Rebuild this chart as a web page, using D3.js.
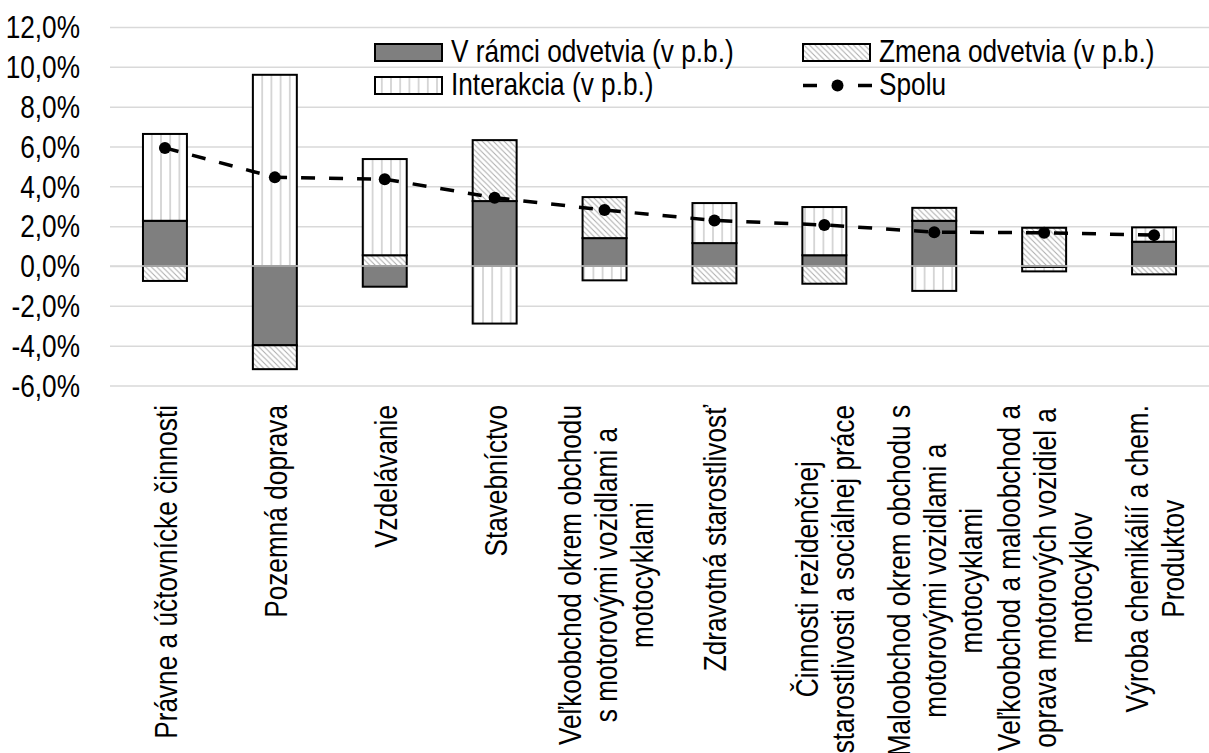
<!DOCTYPE html>
<html>
<head>
<meta charset="utf-8">
<script src="https://cdn.jsdelivr.net/npm/d3@7"></script>
<style>
  body { margin: 0; background: #fff; }
  svg { display: block; font-family: "Liberation Sans", Arial, sans-serif; }
</style>
</head>
<body>
<svg width="1209" height="753"></svg>
<script>
// categories (lines of the wrapped axis labels)
const categories = [
  ["Právne a účtovnícke činnosti"],
  ["Pozemná doprava"],
  ["Vzdelávanie"],
  ["Stavebníctvo"],
  ["Veľkoobchod okrem obchodu", "s motorovými vozidlami a", "motocyklami"],
  ["Zdravotná starostlivosť"],
  ["Činnosti rezidenčnej", "starostlivosti a sociálnej práce"],
  ["Maloobchod okrem obchodu s", "motorovými vozidlami a", "motocyklami"],
  ["Veľkoobchod a maloobchod a", "oprava motorových vozidiel a", "motocyklov"],
  ["Výroba chemikálií a chem.", "Produktov"]
]

// series, in percent
const within      = [2.27, -3.98, -1.04, 3.26, 1.40, 1.15, 0.54, 2.27, -0.05, 1.22]
const change      = [-0.75, -1.20, 0.54, 3.06, 2.06, -0.87, -0.89, 0.65, 1.92, -0.42]
const interaction = [4.36, 9.60, 4.83, -2.89, -0.72, 2.01, 2.42, -1.25, -0.22, 0.72]
const total       = [5.93, 4.45, 4.36, 3.43, 2.81, 2.29, 2.06, 1.70, 1.67, 1.55]

const yTicks = [-6, -4, -2, 0, 2, 4, 6, 8, 10, 12]

const seriesNames = {
  within: "V rámci odvetvia (v p.b.)",
  change: "Zmena odvetvia (v p.b.)",
  interaction: "Interakcia (v p.b.)",
  total: "Spolu"
}

const fontSize = 30.5
const sx = 0.86   // narrow look of the original font

const svg = d3.select("svg")
const plotLeft = 110, plotRight = 1209, plotTop = 27, plotBottom = 385.5

const x = d3.scaleBand()
  .domain(d3.range(categories.length))
  .range([plotLeft, plotRight])
  .paddingInner(0.6)
  .paddingOuter(0.3)

const y = d3.scaleLinear()
  .domain([-6, 12])
  .range([plotBottom, plotTop])

const fmt = v => v.toFixed(1).replace(".", ",") + "%"

// patterns
const defs = svg.append("defs")
const vert = defs.append("pattern")
  .attr("id", "vert")
  .attr("patternUnits", "userSpaceOnUse")
  .attr("width", 9.2).attr("height", 10)
vert.append("rect").attr("width", 9.2).attr("height", 10).attr("fill", "#fff")
vert.append("line")
  .attr("x1", 4.6).attr("x2", 4.6).attr("y1", 0).attr("y2", 10)
  .attr("stroke", "#cfcfcf").attr("stroke-width", 1.6)

const hatch = defs.append("pattern")
  .attr("id", "hatch")
  .attr("patternUnits", "userSpaceOnUse")
  .attr("width", 5.5).attr("height", 5.5)
hatch.append("rect").attr("width", 5.5).attr("height", 5.5).attr("fill", "#fff")
hatch.append("path")
  .attr("d", "M-1,-1 L6.5,6.5 M-1,4.5 L1,6.5 M4.5,-1 L6.5,1")
  .attr("stroke", "#ababab").attr("stroke-width", 1)

const fills = { within: "#7f7f7f", change: "url(#hatch)", interaction: "url(#vert)" }

// gridlines + y labels
const yAxis = svg.append("g")
  .attr("transform", `translate(${plotLeft},0)`)
  .call(d3.axisLeft(y).tickValues(yTicks).tickSize(-(plotRight - plotLeft)).tickFormat(fmt))
yAxis.select(".domain").remove()
yAxis.selectAll(".tick line")
  .attr("stroke", "#d9d9d9")
  .attr("stroke-width", 1.5)
yAxis.selectAll(".tick text")
  .attr("x", null)
  .attr("dy", "0.35em")
  .attr("transform", `translate(-30,0) scale(${sx},1)`)
  .attr("fill", "#000")
  .style("font-size", fontSize + "px")
  .style("font-family", '"Liberation Sans", Arial, sans-serif')

// stacked bars
const rows = categories.map((c, i) => ({
  i: i, within: within[i], change: change[i], interaction: interaction[i]
}))
const stack = d3.stack()
  .keys(["within", "change", "interaction"])
  .offset(d3.stackOffsetDiverging)

svg.append("g")
  .selectAll("g")
  .data(stack(rows))
  .join("g")
  .attr("fill", d => fills[d.key])
  .selectAll("rect")
  .data(d => d)
  .join("rect")
  .attr("x", d => x(d.data.i))
  .attr("width", x.bandwidth())
  .attr("y", d => y(Math.max(d[0], d[1])))
  .attr("height", d => Math.abs(y(d[0]) - y(d[1])))
  .attr("stroke", "#000")
  .attr("stroke-width", 2)

// horizontal axis line at zero
svg.append("line")
  .attr("x1", plotLeft).attr("x2", plotRight)
  .attr("y1", y(0)).attr("y2", y(0))
  .attr("stroke", "#d9d9d9")
  .attr("stroke-width", 1.5)

// total line
const cx = i => x(i) + x.bandwidth() / 2
svg.append("path")
  .datum(total)
  .attr("fill", "none")
  .attr("stroke", "#000")
  .attr("stroke-width", 3.5)
  .attr("stroke-dasharray", "14,14")
  .attr("d", d3.line().x((d, i) => cx(i)).y(d => y(d)))

svg.append("g")
  .selectAll("circle")
  .data(total)
  .join("circle")
  .attr("cx", (d, i) => cx(i))
  .attr("cy", d => y(d))
  .attr("r", 6)
  .attr("fill", "#000")

// category labels, rotated
const labels = svg.append("g")
  .selectAll("g")
  .data(categories)
  .join("g")
  .attr("transform", (d, i) => `translate(${cx(i)},405) rotate(-90) scale(${sx},1)`)
  .style("font-size", fontSize + "px")

labels.each(function (lines) {
  const g = d3.select(this)
  const texts = g.selectAll("text")
    .data(lines)
    .join("text")
    .text(d => d)
    .attr("y", (d, j) => (j - (lines.length - 1) / 2) * 36 + 12)
  const maxLen = d3.max(texts.nodes(), n => n.getComputedTextLength())
  texts.attr("x", -maxLen / 2).attr("text-anchor", "middle")
})

// legend
const legend = svg.append("g")
const legendItems = [
  { key: "within", x: 375, y: 44 },
  { key: "change", x: 803, y: 44 },
  { key: "interaction", x: 375, y: 77 },
  { key: "total", x: 803, y: 77 }
]
legendItems.forEach(it => {
  if (it.key === "total") {
    legend.append("line")
      .attr("x1", it.x).attr("x2", it.x + 69)
      .attr("y1", it.y + 8.5).attr("y2", it.y + 8.5)
      .attr("stroke", "#000").attr("stroke-width", 3.5)
      .attr("stroke-dasharray", "14,41")
    legend.append("circle")
      .attr("cx", it.x + 34.5).attr("cy", it.y + 8.5).attr("r", 6)
      .attr("fill", "#000")
  } else {
    legend.append("rect")
      .attr("x", it.x).attr("y", it.y)
      .attr("width", 67).attr("height", 17)
      .attr("fill", fills[it.key])
      .attr("stroke", "#000").attr("stroke-width", 2)
  }
  legend.append("text")
    .attr("transform", `translate(${it.x + 76},${it.y + 18}) scale(${sx},1)`)
    .style("font-size", fontSize + "px")
    .text(seriesNames[it.key])
})
</script>
</body>
</html>
